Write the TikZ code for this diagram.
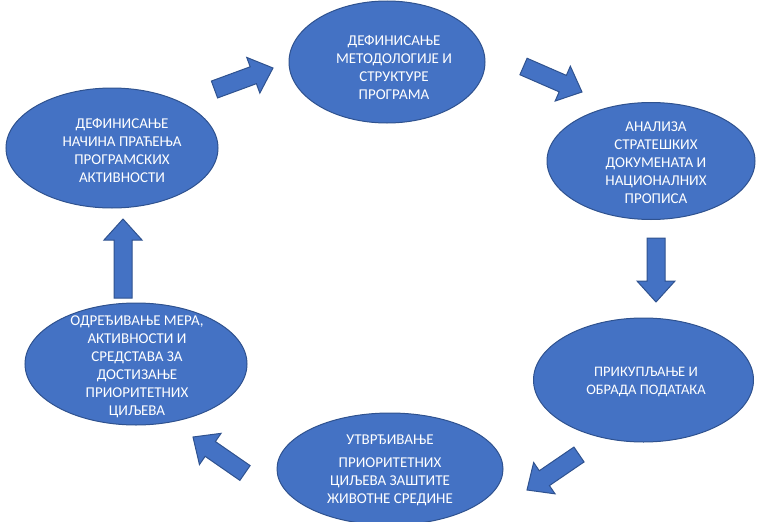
\documentclass[tikz,border=0pt]{standalone}
\usepackage{fontspec}
\setmainfont{Carlito}
\usetikzlibrary{shapes.geometric, calc}
\definecolor{fillblue}{HTML}{4472C4}
\definecolor{edgeblue}{HTML}{2F528F}
\tikzset{phase/.style = {ellipse, draw = edgeblue, fill = fillblue, line width = 1pt, inner sep = 0pt, outer sep = 0pt}}
\tikzset{phasetext/.style = {text = white, align = center, font = \fontsize{15}{18}\selectfont}}
\tikzset{flowarrow/.style = {draw = edgeblue, fill = fillblue, line width = 1pt, line join = miter}}

\begin{document}
\begin{tikzpicture}[x=1pt, y=-1pt]
\useasboundingbox (0,0) rectangle (758,522);
% ellipses
\node[phase, minimum width=196pt, minimum height=122pt] (metod) at (387,62) {};
\node[phase, minimum width=208pt, minimum height=117pt] (analiza) at (651,161) {};
\node[phase, minimum width=220pt, minimum height=124pt] (podaci) at (643.5,380) {};
\node[phase, minimum width=226pt, minimum height=112pt] (ciljevi) at (390,469) {};
\node[phase, minimum width=222pt, minimum height=122pt] (mere) at (136,364) {};
\node[phase, minimum width=212pt, minimum height=120pt] (pracenje) at (112,148) {};
% texts
\node[phasetext] (metodtxt) at (394,68) {ДЕФИНИСАЊЕ\\МЕТОДОЛОГИЈЕ И\\СТРУКТУРЕ\\ПРОГРАМА};
\node[phasetext] (analizatxt) at (656,163) {АНАЛИЗА\\СТРАТЕШКИХ\\ДОКУМЕНАТА И\\НАЦИОНАЛНИХ\\ПРОПИСА};
\node[phasetext, font=\fontsize{14.5}{18}\selectfont] (podacitxt) at (646,382) {ПРИКУПЉАЊЕ И\\ОБРАДА ПОДАТАКА};
\node[phasetext] (ciljevitxt) at (390,470) {УТВРЂИВАЊЕ\\[5pt]ПРИОРИТЕТНИХ\\ЦИЉЕВА ЗАШТИТЕ\\ЖИВОТНЕ СРЕДИНЕ};
\node[phasetext] (meretxt) at (137,367) {ОДРЕЂИВАЊЕ МЕРА,\\АКТИВНОСТИ И\\СРЕДСТАВА ЗА\\ДОСТИЗАЊЕ\\ПРИОРИТЕТНИХ\\ЦИЉЕВА};
\node[phasetext] (pracenjetxt) at (122,151) {ДЕФИНИСАЊЕ\\НАЧИНА ПРАЋЕЊА\\ПРОГРАМСКИХ\\АКТИВНОСТИ};
% block arrows
\coordinate (a1s) at (214.5,89.5); \coordinate (a1e) at (273,68);
\coordinate (a2s) at (523.5,66.5); \coordinate (a2e) at (582,92);
\coordinate (a3s) at (656,238);    \coordinate (a3e) at (656,302);
\coordinate (a4s) at (579,454.5);  \coordinate (a4e) at (527,490);
\coordinate (a5s) at (245,473);    \coordinate (a5e) at (193,437);
\coordinate (a6s) at (123,298);    \coordinate (a6e) at (123,219);
\foreach \s/\e in {a1s/a1e, a2s/a2e, a3s/a3e, a4s/a4e, a5s/a5e, a6s/a6e}{
  \coordinate (hb) at ($(\e)!21pt!(\s)$);
  \draw[flowarrow] ($(\s)!9pt!90:(\e)$) -- ($(hb)!9pt!-90:(\s)$) -- ($(hb)!19pt!-90:(\s)$) -- (\e)
    -- ($(hb)!19pt!90:(\s)$) -- ($(hb)!9pt!90:(\s)$) -- ($(\s)!9pt!-90:(\e)$) -- cycle;
}
\end{tikzpicture}
\end{document}
